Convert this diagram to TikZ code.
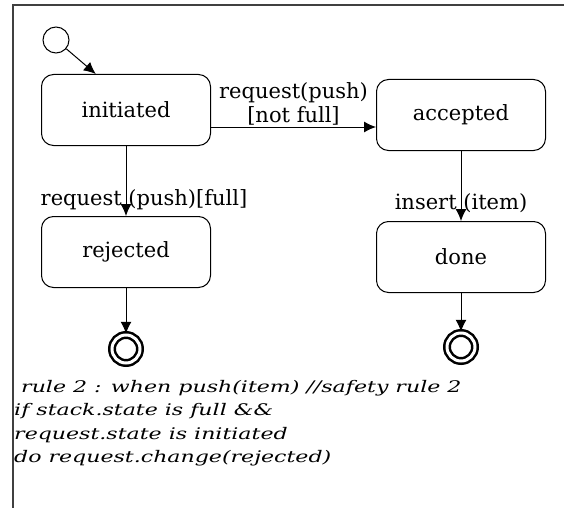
\documentclass[tikz,border=0pt]{standalone}
\usepackage{fontspec}
\setmainfont{DejaVu Serif}
\newfontfamily\rulefont[FakeStretch=1.38]{DejaVu Serif}
\usetikzlibrary{arrows.meta,positioning,calc}

\begin{document}
\begin{tikzpicture}[x=1pt,y=-1pt,
	state/.style={draw,rounded corners=12pt,minimum width=169pt,minimum height=71pt,line width=1pt,font=\fontsize{21}{24}\selectfont},
	initstate/.style={draw,circle,minimum size=26pt,inner sep=0pt,line width=1pt},
	finalstate/.style={draw,circle,double,double distance=3pt,line width=2.5pt,minimum size=28pt,inner sep=0pt},
	trans/.style={line width=1pt,-{Latex[length=12pt,width=11pt]}},
	lbl/.style={font=\fontsize{21}{24}\selectfont,inner sep=1pt}]
		\useasboundingbox (0,0) rectangle (564,508);

		% Frame
		\draw[line width=1.5pt,black!75] (564,5) -- (13,5) -- (13,508);

		% States
		\node[initstate] (start) at (56,40) {};
		\node[state] (initiated) at (126,110) {initiated};
		\node[state] (accepted) at (461,115) {accepted};
		\node[state] (rejected) at (126,252) {rejected};
		\node[state] (done) at (461,257) {done};
		\node[finalstate] (endrej) at (126,349) {};
		\node[finalstate] (enddone) at (461,347) {};

		% Transitions
		\draw[trans] (start) -- (initiated.130);
		\draw[trans] ([yshift=-17pt]initiated.east) -- ([yshift=-17pt]initiated.east -| accepted.west)
			node[lbl,midway,above,align=center]{request(push)\\{}[not full]};
		\draw[trans] (initiated) -- (rejected)
			node[lbl,pos=0.77,xshift=18pt]{request (push)[full]};
		\draw[trans] (accepted) -- (done)
			node[lbl,pos=0.74]{insert (item)};
		\draw[trans] (rejected) -- (endrej);
		\draw[trans] (done) -- (enddone);

		% Rule text
		\node[anchor=north west,align=left,inner sep=0pt,font=\rulefont\fontsize{16}{23.5}\selectfont\itshape] (rule) at (14,380)
			{\ rule 2 : when push(item) //safety rule 2\\
			if stack.state is full \&\&\\
			request.state is initiated\\
			do request.change(rejected)};
\end{tikzpicture}
\end{document}
